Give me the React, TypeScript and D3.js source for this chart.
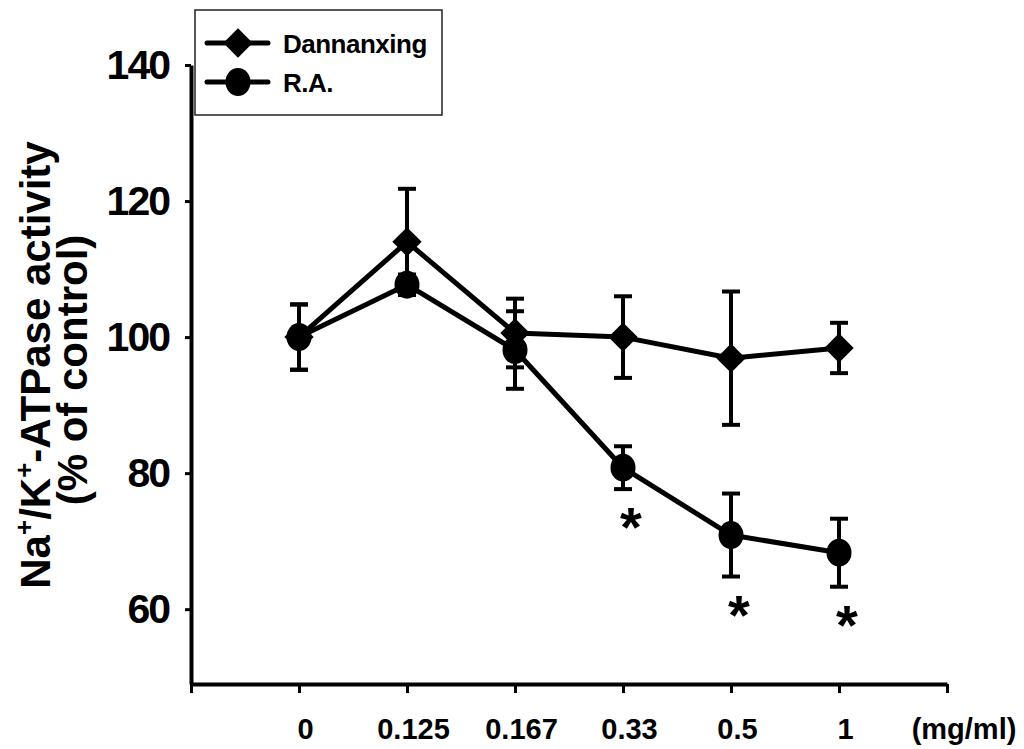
import React, { useEffect, useRef } from 'react';
import * as d3 from 'd3';

// concentrations (mg/ml)
const categories = ['0', '0.125', '0.167', '0.33', '0.5', '1'];
const unitLabel = '(mg/ml)';

// % of control
const dannanxing = [100, 114, 100.6, 100, 96.9, 98.4];
const dannanxingErr = [4.8, 7.8, 5.05, 6, 9.8, 3.7];
const ra = [100, 107.7, 98.1, 80.8, 70.9, 68.3];
const raErr = [4.8, 1.5, 5.7, 3.15, 6.1, 5];
const significant = [false, false, false, true, true, true];

const yTicks = [60, 80, 100, 120, 140];
const seriesNames = ['Dannanxing', 'R.A.'];

const FONT = '"Liberation Sans", Arial, Helvetica, sans-serif';

export default function App() {
  const ref = useRef<SVGSVGElement>(null);

  useEffect(() => {
    const svg = d3.select(ref.current);
    svg.selectAll('*').remove();

    const x = d3
      .scaleLinear()
      .domain([0, categories.length + 1])
      .range([191, 947]);
    const y = d3.scaleLinear().domain([49, 140]).range([684, 65]);

    svg
      .append('rect')
      .attr('width', 1024)
      .attr('height', 749)
      .attr('fill', '#fff');

    // x axis
    const xAxis = svg
      .append('g')
      .attr('transform', `translate(0,${y(49)})`)
      .call(
        d3
          .axisBottom(x)
          .tickValues(d3.range(0, categories.length + 2))
          .tickSize(9)
          .tickSizeOuter(0)
          .tickPadding(25)
          .tickFormat((d) => categories[(d as number) - 1] ?? '')
      );
    xAxis.select('.domain').attr('stroke', '#000').attr('stroke-width', 4);
    xAxis.selectAll('.tick line').attr('stroke', '#000').attr('stroke-width', 3);
    xAxis
      .selectAll('.tick text')
      .attr('dx', 6)
      .style('font-family', FONT)
      .style('font-weight', 'bold')
      .style('font-size', '29px')
      .attr('fill', '#000');

    svg
      .append('text')
      .attr('x', x(categories.length + 1) + 17)
      .attr('y', y(49) + 55)
      .attr('text-anchor', 'middle')
      .style('font-family', FONT)
      .style('font-weight', 'bold')
      .style('font-size', '29px')
      .text(unitLabel);

    // y axis
    const yAxis = svg
      .append('g')
      .attr('transform', `translate(${x(0)},0)`)
      .call(
        d3
          .axisLeft(y)
          .tickValues(yTicks)
          .tickSize(6)
          .tickSizeOuter(0)
          .tickPadding(16)
      );
    yAxis.select('.domain').attr('stroke', '#000').attr('stroke-width', 4);
    yAxis.selectAll('.tick line').attr('stroke', '#000').attr('stroke-width', 3);
    yAxis
      .selectAll('.tick text')
      .style('font-family', FONT)
      .style('font-weight', 'bold')
      .style('font-size', '41px')
      .style('letter-spacing', '-2px')
      .attr('fill', '#000');

    // y title
    const title = svg
      .append('text')
      .attr('transform', 'translate(50,365) rotate(-90)')
      .attr('text-anchor', 'middle')
      .style('font-family', FONT)
      .style('font-weight', 'bold')
      .style('font-size', '42px');
    title.append('tspan').text('Na');
    title.append('tspan').attr('dy', -17).style('font-size', '26px').text('+');
    title.append('tspan').attr('dy', 17).text('/K');
    title.append('tspan').attr('dy', -17).style('font-size', '26px').text('+');
    title.append('tspan').attr('dy', 17).text('-ATPase activity');
    svg
      .append('text')
      .attr('transform', 'translate(87,370) rotate(-90)')
      .attr('text-anchor', 'middle')
      .style('font-family', FONT)
      .style('font-weight', 'bold')
      .style('font-size', '42px')
      .text('(% of control)');

    const series = [
      { values: dannanxing, err: dannanxingErr, marker: 'diamond' },
      { values: ra, err: raErr, marker: 'circle' },
    ];

    // error bars
    series.forEach((s) => {
      const eb = svg
        .append('g')
        .selectAll('g')
        .data(s.values)
        .enter()
        .append('g')
        .attr('stroke', '#000')
        .attr('stroke-width', 4);
      eb.append('line')
        .attr('x1', (d, i) => x(i + 1))
        .attr('x2', (d, i) => x(i + 1))
        .attr('y1', (d, i) => y(d + s.err[i]))
        .attr('y2', (d, i) => y(d - s.err[i]));
      [1, -1].forEach((sign) => {
        eb.append('line')
          .attr('x1', (d, i) => x(i + 1) - 9)
          .attr('x2', (d, i) => x(i + 1) + 9)
          .attr('y1', (d, i) => y(d + sign * s.err[i]))
          .attr('y2', (d, i) => y(d + sign * s.err[i]));
      });
    });

    const line = d3
      .line<number>()
      .x((d, i) => x(i + 1))
      .y((d) => y(d));

    series.forEach((s) => {
      svg
        .append('path')
        .datum(s.values)
        .attr('d', line)
        .attr('fill', 'none')
        .attr('stroke', '#000')
        .attr('stroke-width', 5)
        .attr('stroke-linejoin', 'round');
    });

    const diamond = d3.symbol().type(d3.symbolSquare).size(430);
    const drawMarker = (g: any, kind: string, cx: number, cy: number) => {
      if (kind === 'diamond') {
        g.append('path')
          .attr('d', diamond())
          .attr('transform', `translate(${cx},${cy}) rotate(45)`)
          .attr('fill', '#000');
      } else {
        g.append('ellipse')
          .attr('cx', cx)
          .attr('cy', cy)
          .attr('rx', 12.5)
          .attr('ry', 14)
          .attr('fill', '#000');
      }
    };

    const markers = svg.append('g');
    series.forEach((s) => {
      s.values.forEach((v, i) => drawMarker(markers, s.marker, x(i + 1), y(v)));
    });

    // significance asterisks under R.A.
    svg
      .append('g')
      .selectAll('text')
      .data(ra.map((v, i) => ({ v, i })).filter((d) => significant[d.i]))
      .enter()
      .append('text')
      .attr('x', (d) => x(d.i + 1) + 8)
      .attr('y', (d) => y(d.v - raErr[d.i]) + 57)
      .attr('text-anchor', 'middle')
      .style('font-family', FONT)
      .style('font-weight', 'bold')
      .style('font-size', '56px')
      .text('*');

    // legend
    const leg = svg.append('g');
    leg
      .append('rect')
      .attr('x', 195)
      .attr('y', 10)
      .attr('width', 247)
      .attr('height', 105)
      .attr('fill', '#fff')
      .attr('stroke', '#222')
      .attr('stroke-width', 1.5);
    seriesNames.forEach((name, i) => {
      const cy = 43 + i * 39;
      leg
        .append('line')
        .attr('x1', 207)
        .attr('x2', 268)
        .attr('y1', cy)
        .attr('y2', cy)
        .attr('stroke', '#000')
        .attr('stroke-width', 5)
        .attr('stroke-linecap', 'round');
      drawMarker(leg, series[i].marker, 238, cy);
      leg
        .append('text')
        .attr('x', 283)
        .attr('y', cy + 10)
        .style('font-family', FONT)
        .style('font-weight', 'bold')
        .style('font-size', '26px')
        .style('letter-spacing', '-0.5px')
        .text(name);
    });
  }, []);

  return (
    <svg
      ref={ref}
      width={1024}
      height={749}
      style={{ position: 'absolute', left: 0, top: 0 }}
    />
  );
}
